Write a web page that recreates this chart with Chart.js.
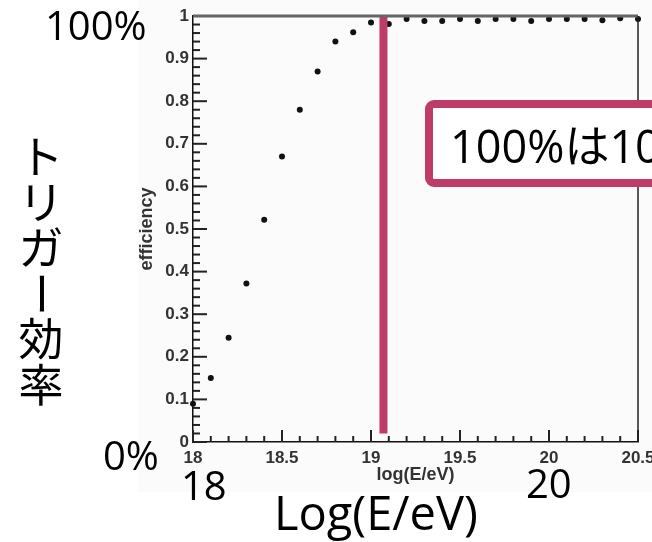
<!DOCTYPE html>
<html>
<head>
<meta charset="utf-8">
<script src="https://cdn.jsdelivr.net/npm/chart.js@4"></script>
<style>
  html, body { margin: 0; padding: 0; background: #fff; }
  #wrap { width: 652px; height: 542px; position: relative; }
</style>
</head>
<body>
<div id="wrap"><canvas id="c" width="652" height="542"></canvas></div>
<script>
// trigger efficiency vs log(E/eV)
var energies = [18.0, 18.1, 18.2, 18.3, 18.4, 18.5, 18.6, 18.7, 18.8, 18.9,
                19.0, 19.1, 19.2, 19.3, 19.4, 19.5, 19.6, 19.7, 19.8, 19.9,
                20.0, 20.1, 20.2, 20.3, 20.4, 20.5];
var efficiency = [0.09, 0.15, 0.245, 0.372, 0.522, 0.67, 0.78, 0.87, 0.94, 0.962,
                  0.985, 0.981, 0.993, 0.988, 0.988, 0.993, 0.988, 0.993, 0.993, 0.988,
                  0.993, 0.993, 0.993, 0.99, 0.995, 0.993];
// pink marker line (100% threshold)
var thresholdX = [19.07, 19.07];
var thresholdY = [1.0, 0.02];
var xTicks = [18, 18.5, 19, 19.5, 20, 20.5];
var yTicks = [0, 0.1, 0.2, 0.3, 0.4, 0.5, 0.6, 0.7, 0.8, 0.9, 1];

var pink = '#bd3c68';
var tickFont = { family: '"Liberation Sans", Arial, sans-serif', size: 17, weight: 'bold' };
var titleFont = { family: '"Liberation Sans", Arial, sans-serif', size: 18, weight: 'bold' };

var points = [];
for (var k = 0; k < energies.length; k++) {
	points.push({ x: energies[k], y: efficiency[k] });
}
var threshold = [];
for (var k = 0; k < thresholdX.length; k++) {
	threshold.push({ x: thresholdX[k], y: thresholdY[k] });
}

// faint background of the pasted plot image, then ROOT style inner ticks and frame
var framePlugin = {
	id: 'frame',
	beforeDraw: function (chart) {
		var ctx = chart.ctx;
		ctx.save();
		ctx.fillStyle = '#fbfbfb';
		ctx.fillRect(138, 0, 514, 492);
		ctx.restore();
	},
	afterDraw: function (chart) {
		var ctx = chart.ctx;
		var xs = chart.scales.x, ys = chart.scales.y;
		var a = chart.chartArea;
		ctx.save();
		ctx.setLineDash([]);
		ctx.strokeStyle = '#222';
		ctx.lineWidth = 2;
		for (var i = 0; i <= 25; i++) {
			var px = xs.getPixelForValue(18 + i * 0.1);
			var tl = (i % 5 == 0) ? 12 : 6;
			ctx.beginPath();
			ctx.moveTo(px, a.bottom);
			ctx.lineTo(px, a.bottom - tl);
			ctx.stroke();
		}
		for (var j = 0; j <= 50; j++) {
			var py = ys.getPixelForValue(j * 0.02);
			var yl = (j % 5 == 0) ? 14 : 7;
			ctx.beginPath();
			ctx.moveTo(a.left, py);
			ctx.lineTo(a.left + yl, py);
			ctx.stroke();
		}
		ctx.strokeStyle = '#666';
		ctx.lineWidth = 3;
		ctx.beginPath();
		ctx.moveTo(a.left, a.top);
		ctx.lineTo(a.right, a.top);
		ctx.stroke();
		ctx.strokeStyle = '#222';
		ctx.lineWidth = 1.5;
		ctx.beginPath();
		ctx.moveTo(a.right, a.top);
		ctx.lineTo(a.right, a.bottom);
		ctx.stroke();
		ctx.restore();

		// slide annotations around the plot
		ctx.save();
		ctx.fillStyle = '#000';
		ctx.textAlign = 'left';
		ctx.textBaseline = 'alphabetic';
		ctx.font = '40px "Open Sans", sans-serif';
		ctx.fillText('100%', 45, 40);
		ctx.fillText('0%', 103, 470);
		ctx.fillText('18', 181, 500);
		ctx.fillText('20', 526, 498);
		ctx.font = '47px "Open Sans", sans-serif';
		ctx.fillText('Log(E/eV)', 274, 530);

		var chars = ['ト', 'リ', 'ガ', 'ー', '効', '率'];
		ctx.font = '45px "Noto Sans CJK JP", sans-serif';
		ctx.textAlign = 'center';
		ctx.textBaseline = 'middle';
		for (var c = 0; c < chars.length; c++) {
			var cy = 157 + c * 45.6;
			if (chars[c] == 'ー') {
				ctx.save();
				ctx.translate(41, cy);
				ctx.rotate(Math.PI / 2);
				ctx.fillText(chars[c], 0, 0);
				ctx.restore();
			} else {
				ctx.fillText(chars[c], 41, cy);
			}
		}

		ctx.beginPath();
		ctx.moveTo(434, 104);
		ctx.lineTo(670, 104);
		ctx.lineTo(670, 183);
		ctx.lineTo(434, 183);
		ctx.arcTo(429, 183, 429, 178, 5);
		ctx.lineTo(429, 109);
		ctx.arcTo(429, 104, 434, 104, 5);
		ctx.closePath();
		ctx.fillStyle = '#fff';
		ctx.fill();
		ctx.lineWidth = 8;
		ctx.strokeStyle = pink;
		ctx.stroke();
		ctx.fillStyle = '#000';
		ctx.textAlign = 'left';
		ctx.textBaseline = 'alphabetic';
		ctx.font = '45px "Open Sans", "Noto Sans CJK JP", sans-serif';
		ctx.fillText('100%は10', 450, 163);
		ctx.restore();
	}
};

new Chart(document.getElementById('c'), {
	type: 'scatter',
	data: {
		datasets: [{
			data: threshold,
			showLine: true,
			borderColor: pink,
			borderWidth: 8,
			borderCapStyle: 'butt',
			pointRadius: 0
		}, {
			data: points,
			pointRadius: 3,
			pointBackgroundColor: '#111',
			pointBorderWidth: 0,
			clip: false
		}]
	},
	options: {
		responsive: false,
		animation: false,
		layout: { padding: { left: 0, top: 16, right: 14, bottom: 0 } },
		plugins: {
			legend: { display: false },
			tooltip: { enabled: false }
		},
		scales: {
			x: {
				type: 'linear',
				min: 18,
				max: 20.5,
				afterFit: function (s) {
					s.height = 100;
					s.paddingLeft = 0;
					s.paddingRight = 0;
				},
				afterBuildTicks: function (s) {
					s.ticks = xTicks.map(function (v) { return { value: v }; });
				},
				grid: { display: false, drawTicks: false },
				border: { display: true, color: '#111', width: 1.5 },
				ticks: {
					font: tickFont,
					color: '#333',
					padding: 6,
					autoSkip: false,
					maxRotation: 0,
					callback: function (v) { return String(v); }
				},
				title: {
					display: true,
					text: 'log(E/eV)',
					color: '#333',
					font: titleFont,
					padding: { top: 0, bottom: 56 }
				}
			},
			y: {
				min: 0,
				max: 1,
				afterFit: function (s) {
					s.width = 193;
					s.paddingTop = 0;
					s.paddingBottom = 0;
				},
				afterBuildTicks: function (s) {
					s.ticks = yTicks.map(function (v) { return { value: v }; });
				},
				grid: { display: false, drawTicks: false },
				border: { display: true, color: '#111', width: 1.5 },
				ticks: {
					font: tickFont,
					color: '#333',
					padding: 4,
					autoSkip: false,
					callback: function (v) { return String(v); }
				},
				title: {
					display: true,
					text: 'efficiency',
					color: '#333',
					font: titleFont,
					padding: { top: 136, bottom: 0 }
				}
			}
		}
	},
	plugins: [framePlugin]
});
</script>
</body>
</html>
